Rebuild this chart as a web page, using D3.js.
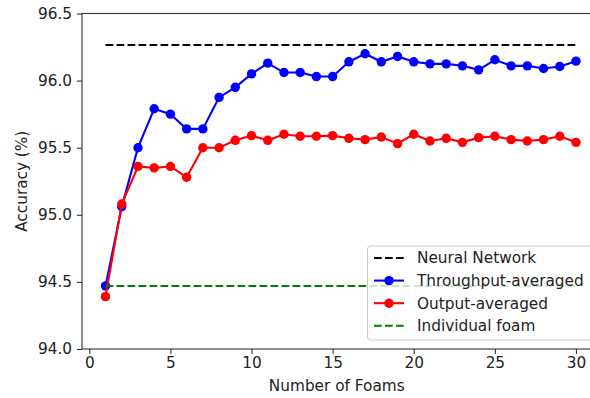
<!DOCTYPE html>
<html>
<head>
<meta charset="utf-8">
<script src="https://cdn.jsdelivr.net/npm/d3@7"></script>
<style>
body { margin: 0; background: #fff; }
svg { display: block; font-family: "DejaVu Sans", sans-serif; }
</style>
</head>
<body>
<svg id="chart" width="590" height="398"></svg>
<script>
const foams = d3.range(1, 31);
const throughputAvg = [94.47, 95.06, 95.50, 95.79, 95.75, 95.64, 95.64, 95.875, 95.95, 96.05,
  96.13, 96.06, 96.06, 96.03, 96.03, 96.14, 96.20, 96.14, 96.18, 96.14,
  96.125, 96.125, 96.11, 96.08, 96.155, 96.11, 96.11, 96.09, 96.105, 96.145];
const outputAvg = [94.39, 95.08, 95.36, 95.35, 95.36, 95.28, 95.50, 95.50, 95.555, 95.59,
  95.555, 95.60, 95.585, 95.585, 95.59, 95.57, 95.56, 95.58, 95.53, 95.60,
  95.55, 95.57, 95.54, 95.575, 95.585, 95.56, 95.55, 95.56, 95.585, 95.54];
const neuralNetwork = 96.265;
const individualFoam = 94.47;
const xTicks = [0, 5, 10, 15, 20, 25, 30];
const yTicks = [94.0, 94.5, 95.0, 95.5, 96.0, 96.5];
const legendLabels = ["Neural Network", "Throughput-averaged", "Output-averaged", "Individual foam"];

(function () {
const svg = d3.select("#chart");
const mL = 82, mT = 13.5, mB = 349, mR = 599.5;
const x = d3.scaleLinear().domain([-0.45, 31.45]).range([mL, mR]);
const y = d3.scaleLinear().domain([94.0, 96.5]).range([mB, mT]);

const fs = 15.3;
const xAxis = svg.append("g").attr("transform", `translate(0,${mB})`)
  .call(d3.axisBottom(x).tickValues(xTicks).tickFormat(d3.format("d")).tickSize(5).tickPadding(3));
const yAxis = svg.append("g").attr("transform", `translate(${mL},0)`)
  .call(d3.axisLeft(y).tickValues(yTicks).tickFormat(d3.format(".1f")).tickSize(5).tickPadding(5));
[xAxis, yAxis].forEach(g => {
  g.select(".domain").remove();
  g.selectAll("line").attr("stroke", "#333").attr("stroke-width", 1.1);
  g.selectAll("text").attr("fill", "#222").style("font-size", fs + "px").style("font-family", "DejaVu Sans");
});
svg.append("rect").attr("x", mL).attr("y", mT).attr("width", mR - mL).attr("height", mB - mT)
  .attr("fill", "none").attr("stroke", "#333").attr("stroke-width", 1.1);

svg.append("text").attr("x", (mL + mR) / 2 - 4).attr("y", 391).attr("text-anchor", "middle")
  .style("font-size", fs + "px").attr("fill", "#222").text("Number of Foams");
svg.append("text").attr("transform", `translate(27,${(mT + mB) / 2}) rotate(-90)`).attr("text-anchor", "middle")
  .style("font-size", fs + "px").attr("fill", "#222").text("Accuracy (%)");

const lw = 2.1;
const dash = "7.7,3.3";
svg.append("line").attr("x1", x(1)).attr("x2", x(30)).attr("y1", y(neuralNetwork)).attr("y2", y(neuralNetwork))
  .attr("stroke", "black").attr("stroke-width", lw).attr("stroke-dasharray", dash);

const line = d3.line().x((d, i) => x(foams[i])).y(d => y(d));
function series(data, color) {
  svg.append("path").datum(data).attr("d", line).attr("fill", "none").attr("stroke", color).attr("stroke-width", lw);
  svg.append("g").selectAll("circle").data(data).join("circle")
    .attr("cx", (d, i) => x(foams[i])).attr("cy", d => y(d)).attr("r", 4.7).attr("fill", color);
}
series(throughputAvg, "#0000ff");
series(outputAvg, "#ff0000");

svg.append("line").attr("x1", x(1)).attr("x2", x(30)).attr("y1", y(individualFoam)).attr("y2", y(individualFoam))
  .attr("stroke", "#008000").attr("stroke-width", lw).attr("stroke-dasharray", dash);

const lg = svg.append("g");
lg.append("rect").attr("x", 367.5).attr("y", 246).attr("width", 226).attr("height", 94).attr("rx", 3)
  .attr("fill", "white").attr("fill-opacity", 0.8).attr("stroke", "#cccccc").attr("stroke-width", 1);
const colors = ["black", "#0000ff", "#ff0000", "#008000"];
const dashed = [true, false, false, true];
legendLabels.forEach((lab, i) => {
  const cy = 258 + i * 22.6;
  lg.append("line").attr("x1", 374).attr("x2", 404).attr("y1", cy).attr("y2", cy)
    .attr("stroke", colors[i]).attr("stroke-width", lw).attr("stroke-dasharray", dashed[i] ? dash : null);
  if (!dashed[i]) lg.append("circle").attr("cx", 389).attr("cy", cy).attr("r", 4.7).attr("fill", colors[i]);
  lg.append("text").attr("x", 417).attr("y", cy).attr("dy", "0.35em").style("font-size", fs + "px")
    .attr("fill", "#222").text(lab);
});
})();
</script>
</body>
</html>
